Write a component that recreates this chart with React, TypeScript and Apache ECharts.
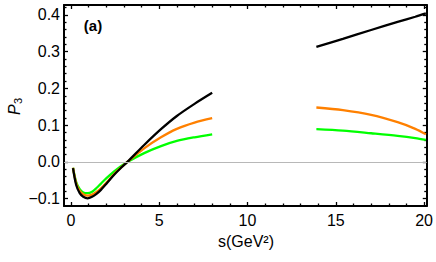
import React, { useEffect, useRef } from 'react';
import * as echarts from 'echarts';

// ---- data ----
const sLow = [0.12, 0.3, 0.5, 0.7, 0.95, 1.2, 1.45, 1.7, 2.0, 2.45, 2.8, 3.2, 4.15, 5.1, 6.0, 7.0, 8.0];
const blackLow = [-0.017, -0.063, -0.085, -0.095, -0.099, -0.095, -0.087, -0.076, -0.06, -0.035, -0.018, 0.0, 0.046, 0.089, 0.125, 0.158, 0.188];
const orangeLow = [-0.016, -0.058, -0.079, -0.088, -0.092, -0.089, -0.082, -0.072, -0.057, -0.033, -0.017, 0.0, 0.037, 0.067, 0.09, 0.107, 0.119];
const greenLow = [-0.016, -0.055, -0.074, -0.083, -0.085, -0.081, -0.071, -0.059, -0.045, -0.026, -0.013, 0.0, 0.024, 0.043, 0.057, 0.067, 0.075];

const sHigh = [13.9, 15.4, 17.0, 18.5, 19.5, 20.1];
const blackHigh = [0.313, 0.335, 0.359, 0.381, 0.395, 0.404];
const orangeHigh = [0.148, 0.141, 0.128, 0.108, 0.09, 0.075];
const greenHigh = [0.089, 0.085, 0.078, 0.071, 0.065, 0.06];

const xMajor = [0, 5, 10, 15, 20];
const xMinor = [1, 2, 3, 4, 6, 7, 8, 9, 11, 12, 13, 14, 16, 17, 18, 19];
const yMajor = [-0.1, 0, 0.1, 0.2, 0.3, 0.4];
const yMinor = [-0.08, -0.06, -0.04, -0.02, 0.02, 0.04, 0.06, 0.08, 0.12, 0.14, 0.16, 0.18,
  0.22, 0.24, 0.26, 0.28, 0.32, 0.34, 0.36, 0.38, 0.42];

const xTitle = 's(GeV²)';
const panelLabel = '(a)';

const FONT = '"Liberation Sans", Arial, sans-serif';

const pairs = (xs: number[], ys: number[]) => xs.map((x, i) => [x, ys[i]]);

export default function App() {
  const ref = useRef<HTMLDivElement>(null);
  useEffect(() => {
    const chart = echarts.init(ref.current!, null, { renderer: 'svg' });
    const X_MIN = -0.39, X_MAX = 20.15, Y_MIN = -0.12, Y_MAX = 0.427;
    const frameLine = { show: true, onZero: false, lineStyle: { color: '#000', width: 2 } };
    const noLine = { show: false, onZero: false };
    const tickStyle = { color: '#000', width: 1.3 };
    const mkX = (position: string, ticks: number[], len: number, labels: boolean, line: boolean) => ({
      type: 'value', position, min: X_MIN, max: X_MAX, gridIndex: 0,
      axisLine: line ? frameLine : noLine,
      axisTick: { show: true, inside: true, length: len, customValues: ticks, lineStyle: tickStyle },
      axisLabel: labels
        ? { show: true, customValues: ticks, color: '#000', fontFamily: FONT, fontSize: 16, margin: 6 }
        : { show: false },
      splitLine: { show: false },
      minorTick: { show: false },
    });
    const mkY = (position: string, ticks: number[], len: number, labels: boolean, line: boolean) => ({
      type: 'value', position, min: Y_MIN, max: Y_MAX, gridIndex: 0,
      axisLine: line ? frameLine : noLine,
      axisTick: { show: true, inside: true, length: len, customValues: ticks, lineStyle: tickStyle },
      axisLabel: labels
        ? {
            show: true, customValues: ticks, color: '#000', fontFamily: FONT, fontSize: 16, margin: 4,
            formatter: (v: number) => (v < -1e-9 ? '−' : '') + Math.abs(v).toFixed(1),
          }
        : { show: false },
      splitLine: { show: false },
      minorTick: { show: false },
    });
    const lineSeries = (data: number[][], color: string, withZero = false) => ({
      type: 'line', xAxisIndex: 0, yAxisIndex: 0, data, smooth: 0.3,
      showSymbol: false, symbol: 'none',
      lineStyle: { color, width: 2.3 }, silent: true,
      markLine: withZero
        ? {
            silent: true, symbol: 'none', label: { show: false },
            lineStyle: { color: '#b8b8b8', width: 1, type: 'solid' },
            data: [{ yAxis: 0 }],
          }
        : undefined,
    });
    chart.setOption({
      animation: false,
      backgroundColor: '#fff',
      grid: { left: 64, right: 8, top: 5, bottom: 56, containLabel: false },
      xAxis: [
        mkX('bottom', xMajor, 4, true, true),
        mkX('bottom', xMinor, 2.5, false, false),
        mkX('top', xMajor, 4, false, true),
        mkX('top', xMinor, 2.5, false, false),
      ],
      yAxis: [
        mkY('left', yMajor, 4, true, true),
        mkY('left', yMinor, 2.5, false, false),
        mkY('right', yMajor, 4, false, true),
        mkY('right', yMinor, 2.5, false, false),
      ],
      series: [
        lineSeries(pairs(sLow, greenLow), '#00ff00', true),
        lineSeries(pairs(sHigh, greenHigh), '#00ff00'),
        lineSeries(pairs(sLow, orangeLow), '#ff8000'),
        lineSeries(pairs(sHigh, orangeHigh), '#ff8000'),
        lineSeries(pairs(sLow, blackLow), '#000000'),
        lineSeries(pairs(sHigh, blackHigh), '#000000'),
      ],
      graphic: [
        {
          type: 'text', x: 246, y: 241,
          style: { text: xTitle, fontFamily: FONT, fontSize: 16, fill: '#000',
            align: 'center', verticalAlign: 'middle', textAlign: 'center', textVerticalAlign: 'middle' },
        },
        {
          type: 'text', x: 93, y: 25,
          style: { text: panelLabel, fontFamily: FONT, fontSize: 15, fontWeight: 'bold', fill: '#000',
            align: 'center', verticalAlign: 'middle', textAlign: 'center', textVerticalAlign: 'middle' },
        },
        {
          type: 'group', x: 14, y: 106, rotation: Math.PI / 2,
          children: [
            {
              type: 'text', x: -9, y: 0,
              style: { text: 'P', fontFamily: FONT, fontSize: 16, fontStyle: 'italic', fill: '#000',
                align: 'left', verticalAlign: 'middle', textAlign: 'left', textVerticalAlign: 'middle' },
            },
            {
              type: 'text', x: 2, y: 4,
              style: { text: '3', fontFamily: FONT, fontSize: 11, fill: '#000',
                align: 'left', verticalAlign: 'middle', textAlign: 'left', textVerticalAlign: 'middle' },
            },
          ],
        },
      ],
    });
    return () => chart.dispose();
  }, []);
  return <div ref={ref} style={{ position: 'fixed', left: 0, top: 0, width: 436, height: 262 }} />;
}
